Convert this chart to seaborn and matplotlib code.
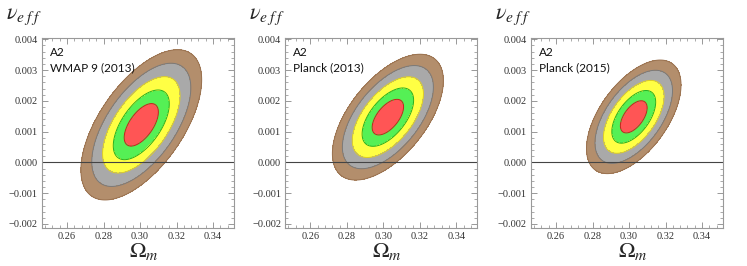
import numpy as np
import matplotlib
matplotlib.use("Agg")
import matplotlib.pyplot as plt
from matplotlib.ticker import FixedLocator, AutoMinorLocator, FuncFormatter
import seaborn as sns

# data: Gaussian likelihood parameters for each panel
panel_labels = ["WMAP 9 (2013)", "Planck (2013)", "Planck (2015)"]
model = "A2"
om_center = [0.3007, 0.3025, 0.3026]
nu_center = [0.00122, 0.00147, 0.00148]
om_sigma = [0.00617, 0.00567, 0.00483]
nu_sigma = [0.000455, 0.000381, 0.000344]
rho = [0.60, 0.58, 0.56]
# delta chi^2 for 1..5 sigma with 2 parameters
dchi2 = [2.30, 6.18, 11.83, 19.33, 28.74]
x_ticks = [0.26, 0.28, 0.30, 0.32, 0.34]
y_ticks = [-0.002, -0.001, 0.000, 0.001, 0.002, 0.003, 0.004]

fill_colors = ["#FF5555", "#55F055", "#FFFF44", "#A9A9A9", "#B38E6C"]
edge_colors = ["#C81E1E", "#22B022", "#E0D020", "#7A7A7A", "#9A7250"]

sns.set_style("ticks")
plt.rcParams["mathtext.fontset"] = "stix"
plt.rcParams["font.family"] = ["Liberation Serif", "DejaVu Serif"]

fig = plt.figure(figsize=(7.47, 2.66), dpi=100)
W, H = 747, 266
lefts = [42, 285.3, 531]
ax_w, ax_h, ax_top = 192, 190, 38

xg = np.linspace(0.24, 0.36, 500)
yg = np.linspace(-0.0025, 0.0045, 500)
X, Y = np.meshgrid(xg, yg)


def fmt(v, pos):
    return f"{v:.3f}".replace("-", "\u2212")


for i, lab in enumerate(panel_labels):
    left = lefts[i]
    ax = fig.add_axes([left / W, 1 - (ax_top + ax_h) / H, ax_w / W, ax_h / H])
    dx = (X - om_center[i]) / om_sigma[i]
    dy = (Y - nu_center[i]) / nu_sigma[i]
    chi2 = (dx**2 - 2 * rho[i] * dx * dy + dy**2) / (1 - rho[i] ** 2)
    ax.contourf(X, Y, chi2, levels=[0] + dchi2, colors=fill_colors)
    ax.contour(X, Y, chi2, levels=dchi2, colors=edge_colors, linewidths=0.7)
    ax.axhline(0, color="#444444", lw=0.8)

    ax.set_xlim(0.2463, 0.3515)
    ax.set_ylim(-0.00213, 0.00404)
    ax.xaxis.set_major_locator(FixedLocator(x_ticks))
    ax.yaxis.set_major_locator(FixedLocator(y_ticks))
    ax.xaxis.set_minor_locator(AutoMinorLocator(5))
    ax.yaxis.set_minor_locator(AutoMinorLocator(5))
    ax.xaxis.set_major_formatter(FuncFormatter(lambda v, p: f"{v:.2f}"))
    ax.yaxis.set_major_formatter(FuncFormatter(fmt))
    ax.tick_params(which="both", direction="in", top=True, right=True,
                   color="#888888", labelsize=7.5, labelcolor="#333333", pad=3)
    ax.tick_params(which="major", length=4, width=0.6)
    ax.tick_params(which="minor", length=2, width=0.5)
    for s in ax.spines.values():
        s.set_color("#999999")
        s.set_linewidth(0.8)

    ax.text(8 / ax_w, 1 - 14 / ax_h, model, transform=ax.transAxes,
            family="Lato", fontsize=8.5, va="center", ha="left", color="#111111")
    ax.text(8 / ax_w, 1 - 30 / ax_h, lab, transform=ax.transAxes,
            family="Lato", fontsize=8.5, va="center", ha="left", color="#111111")

    fig.text((left - 18) / W, 1 - 17 / H, r"$\nu_{e\;f\;f}$", fontsize=16,
             ha="center", va="center")
    fig.text((left + 102) / W, 1 - 252 / H, r"$\Omega_m$", fontsize=16,
             ha="center", va="center")

fig.savefig("out.png", dpi=100, facecolor="white")
